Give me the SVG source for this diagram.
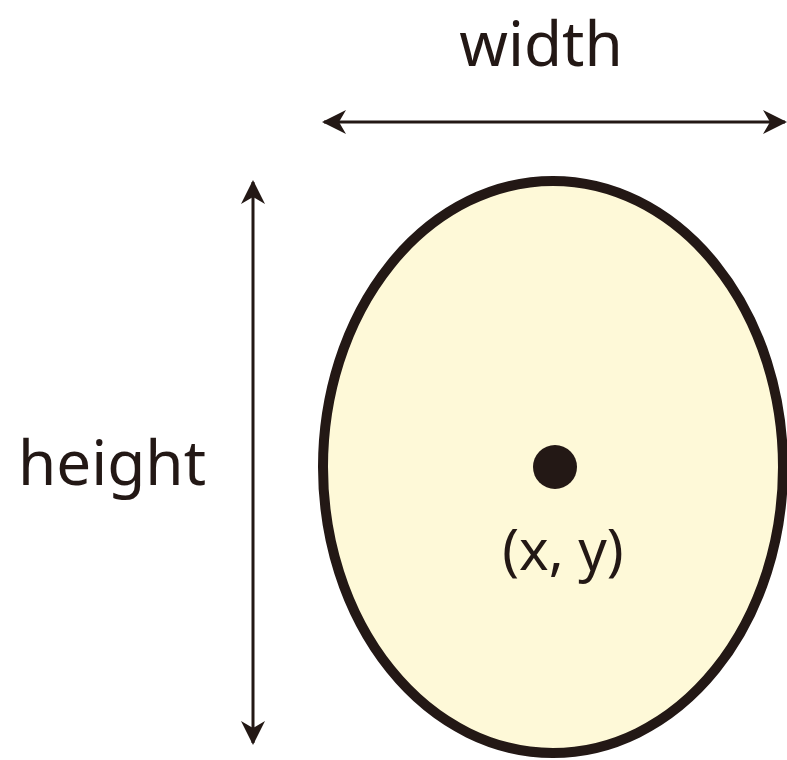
<svg xmlns="http://www.w3.org/2000/svg" width="787" height="760" viewBox="0 0 787 760">
<style>
.lbl{font-family:"Noto Sans","Open Sans",sans-serif;fill:#231815;}
.dim{stroke:#231815;stroke-width:3;fill:none;}
</style>
<defs>
<marker id="ah" viewBox="0 0 24 24" refX="22" refY="12" markerWidth="24" markerHeight="24" markerUnits="userSpaceOnUse" orient="auto-start-reverse">
<path d="M24,12 L0,0 L7,12 L0,24 Z" fill="#231815"/>
</marker>
</defs>
<rect width="787" height="760" fill="#ffffff"/>
<g id="shape">
<ellipse cx="553" cy="467" rx="230" ry="286" fill="#fef9d8" stroke="#231815" stroke-width="10"/>
<circle cx="555" cy="467" r="22" fill="#231815"/>
<text class="lbl" x="563" y="570" font-size="56" text-anchor="middle">(x, y)</text>
</g>
<g id="connectors">
<line class="dim" x1="324" y1="122" x2="785" y2="122" marker-start="url(#ah)" marker-end="url(#ah)"/>
<line class="dim" x1="253" y1="182" x2="253" y2="743" marker-start="url(#ah)" marker-end="url(#ah)"/>
</g>
<g id="labels">
<text class="lbl" x="541" y="66" font-size="62" text-anchor="middle">width</text>
<text class="lbl" x="112" y="485" font-size="62" text-anchor="middle">height</text>
</g>
</svg>
